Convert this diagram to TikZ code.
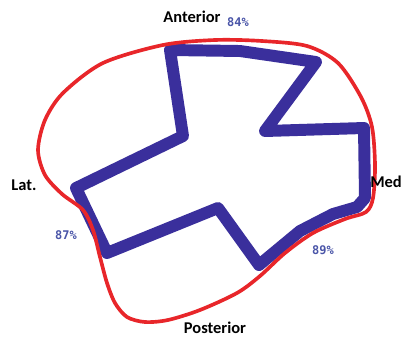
\documentclass[tikz,border=0pt]{standalone}
\usepackage{fontspec}
\setmainfont{Carlito}
\newfontfamily\pctfont{DejaVu Sans Mono}
\usepackage{xcolor}
\usepackage{tikz}
\usetikzlibrary{positioning}
\definecolor{bandblue}{HTML}{3A2F9C}
\definecolor{rimred}{HTML}{E8262A}
\definecolor{pctblue}{HTML}{4A55A8}

\begin{document}
\begin{tikzpicture}[x=0.025cm,y=-0.025cm,
  side/.style={font=\fontsize{11.7}{13}\selectfont\bfseries,inner sep=0pt},
  pct/.style={font=\pctfont\bfseries\fontsize{8.5}{10}\selectfont,text=pctblue,inner sep=0pt},
  band/.style={bandblue,line width=8.5pt,line join=round,line cap=round},
  rim/.style={rimred,line width=2.6pt}]
\useasboundingbox (0,0) rectangle (401,338);
% blue region
\draw[band] (170,50) -- (240,51) -- (316,62) -- (265,131) -- (364,128) -- (365,198)
  -- (357,207) -- (333,214) -- (300,231) -- (259,265) -- (218,208) -- (107,253)
  -- (76,188) -- (183,136) -- cycle;
% red outline
\draw[rim] plot[smooth cycle,tension=0.5] coordinates {(163,45) (215,40) (262,41)
  (307,46) (338,63) (361,97) (372,127) (375,165) (373,198) (366,212) (345,219)
  (313,233) (285,253) (260,276) (237,293) (200,310) (168,320) (145,322) (127,317)
  (115,303) (107,283) (100,257) (93,230) (83,210) (62,194) (45,175) (38,150)
  (45,120) (63,93) (103,63)};
\node[side] (ant) at (192,17) {Anterior};
\node[pct] (pAnt) at (238,22) {84\%};
\node[side] (lat) at (24,185) {Lat.};
\node[pct] (pLat) at (66,235) {87\%};
\node[side] (med) at (386,182) {Med};
\node[pct] (pMed) at (323,250) {89\%};
\node[side] (post) at (215,328) {Posterior};
\end{tikzpicture}
\end{document}
